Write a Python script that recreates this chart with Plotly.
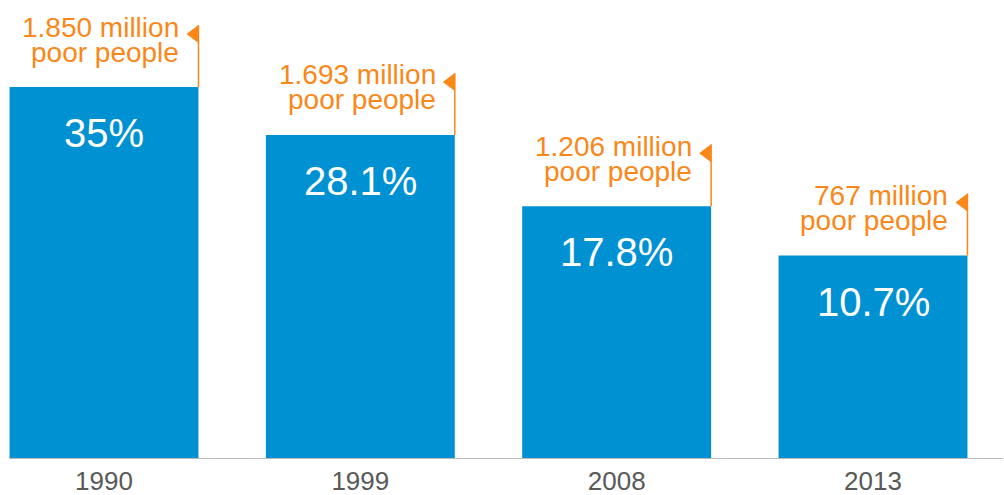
import plotly.graph_objects as go

years = ["1990", "1999", "2008", "2013"]
pct = [35.0, 28.1, 17.8, 10.7]
pct_labels = ["35%", "28.1%", "17.8%", "10.7%"]
poor_labels = ["1.850 million", "1.693 million", "1.206 million", "767 million"]
poor_line2 = ["poor people", "poor people", "poor people", "poor people"]

BASE = -18.63
YMAX = 47.56
BAR_W = 0.737
BLUE = "#0091D2"
ORANGE = "#FA8719"
FONT = "Liberation Sans, Arial, sans-serif"

xs = list(range(len(years)))

fig = go.Figure()
fig.add_trace(go.Bar(
    x=xs, y=[p - BASE for p in pct], base=BASE,
    width=BAR_W, marker=dict(color=BLUE, line=dict(width=0)),
    hoverinfo="skip", showlegend=False,
))

annotations = []
shapes = []
for i, (p, pl, l1, l2) in enumerate(zip(pct, pct_labels, poor_labels, poor_line2)):
    right = i + BAR_W / 2
    annotations.append(dict(x=i, y=p, xref="x", yref="y", text=pl, showarrow=False,
                            yshift=-46, yanchor="middle", xanchor="center",
                            font=dict(family=FONT, size=40, color="white")))
    annotations.append(dict(x=right, y=p, xref="x", yref="y", text=l1, showarrow=False,
                            xshift=-18, yshift=60, yanchor="middle", xanchor="right",
                            borderpad=0,
                            font=dict(family=FONT, size=28, color=ORANGE)))
    annotations.append(dict(x=right, y=p, xref="x", yref="y", text=l2, showarrow=False,
                            xshift=-18, yshift=35, yanchor="middle", xanchor="right",
                            borderpad=0,
                            font=dict(family=FONT, size=28, color=ORANGE)))
    shapes.append(dict(type="line", xref="x", yref="y", xsizemode="pixel", ysizemode="pixel",
                       xanchor=right, yanchor=p, x0=0, x1=0, y0=0, y1=62,
                       line=dict(color=ORANGE, width=1.5)))
    shapes.append(dict(type="path", xref="x", yref="y", xsizemode="pixel", ysizemode="pixel",
                       xanchor=right, yanchor=p, path="M 0 62 L -12 53 L 0 44 Z",
                       fillcolor=ORANGE, line=dict(color=ORANGE, width=0)))

shapes.append(dict(type="line", xref="paper", yref="y", x0=9/1004, x1=1003/1004,
                   y0=BASE, y1=BASE, line=dict(color="#BBBBBB", width=2)))

fig.update_layout(
    width=1004, height=495,
    margin=dict(l=0, r=0, t=0, b=36),
    paper_bgcolor="white", plot_bgcolor="white",
    annotations=annotations, shapes=shapes,
    xaxis=dict(range=[-0.4057, 3.511], tickvals=xs, ticktext=years, showgrid=False,
               zeroline=False, showline=False, ticks="", ticklabelstandoff=4,
               automargin=False,
               tickfont=dict(family=FONT, size=26, color="#595959")),
    yaxis=dict(range=[BASE, YMAX], visible=False, showgrid=False, zeroline=False,
               automargin=False),
)

fig.write_html("out.html")
